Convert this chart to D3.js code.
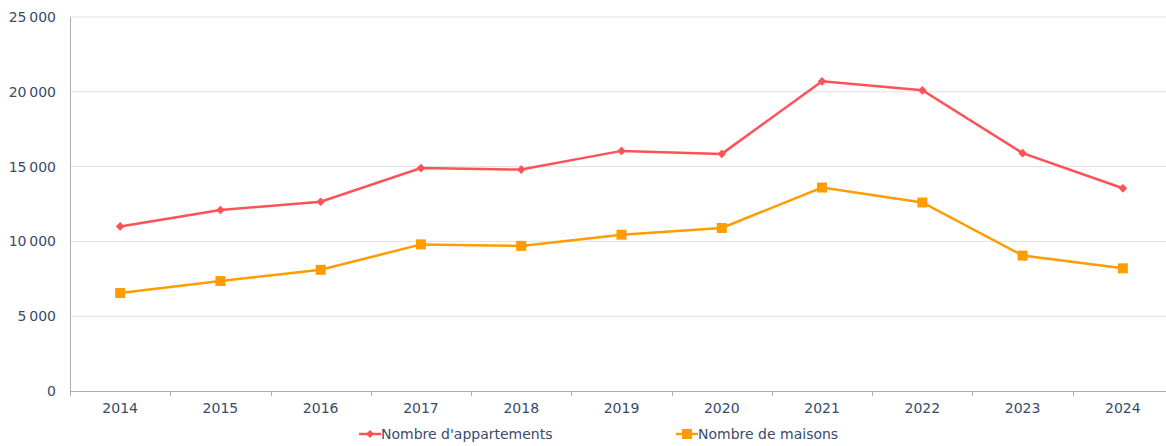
<!DOCTYPE html>
<html>
<head>
<meta charset="utf-8">
<script src="https://cdn.jsdelivr.net/npm/d3@7"></script>
<style>
  html, body { margin: 0; padding: 0; background: #fff; }
  svg { display: block; font-family: "DejaVu Sans", Verdana, sans-serif; }
</style>
</head>
<body>
<svg id="chart" width="1166" height="446"></svg>
<script>
const years = ["2014", "2015", "2016", "2017", "2018", "2019", "2020", "2021", "2022", "2023", "2024"];
const appartements = [11000, 12100, 12650, 14900, 14800, 16050, 15850, 20700, 20100, 15900, 13550];
const maisons = [6550, 7350, 8100, 9800, 9700, 10450, 10900, 13600, 12600, 9050, 8200];
const yTicks = [0, 5000, 10000, 15000, 20000, 25000];
const seriesNames = ["Nombre d'appartements", "Nombre de maisons"];

const textColor = "#3a4a6c";
const red = "#ff5257";
const orange = "#ff9c00";
const fontSize = 14;

const svg = d3.select("#chart");
const plotLeft = 70, plotRight = 1173, plotTop = 17, plotBottom = 391;

const x = d3.scaleBand().domain(years).range([plotLeft, plotRight]);
const y = d3.scaleLinear().domain([0, 25000]).range([plotBottom, plotTop]);

const fmt = v => d3.format(",")(v).replace(/,/g, "\u202F");

// horizontal grid
svg.append("g")
  .selectAll("line")
  .data(yTicks.filter(d => d > 0))
  .join("line")
  .attr("x1", plotLeft).attr("x2", 1166)
  .attr("y1", d => y(d)).attr("y2", d => y(d))
  .attr("stroke", "#e1e1e1").attr("stroke-width", 1);

// y axis labels
svg.append("g")
  .selectAll("text")
  .data(yTicks)
  .join("text")
  .attr("x", 56).attr("y", d => y(d))
  .attr("dy", "0.35em")
  .attr("text-anchor", "end")
  .attr("font-size", fontSize)
  .attr("fill", textColor)
  .text(fmt);

// y axis line
svg.append("line")
  .attr("x1", plotLeft + 0.5).attr("x2", plotLeft + 0.5)
  .attr("y1", plotTop).attr("y2", plotBottom)
  .attr("stroke", "#a9adb8");

// x axis
const xAxis = svg.append("g")
  .attr("transform", `translate(0,${plotBottom + 0.5})`)
  .call(d3.axisBottom(x).tickSize(0).tickPadding(12));
xAxis.select(".domain").attr("stroke", "#a9adb8").attr("d", `M${plotLeft},0H1166`);
xAxis.selectAll("text")
  .attr("font-size", fontSize)
  .attr("fill", textColor)
  .attr("font-family", "DejaVu Sans, Verdana, sans-serif");

// boundary ticks between categories
svg.append("g")
  .selectAll("line")
  .data(years)
  .join("line")
  .attr("x1", d => Math.round(x(d)) + 0.5).attr("x2", d => Math.round(x(d)) + 0.5)
  .attr("y1", plotBottom).attr("y2", plotBottom + 5)
  .attr("stroke", "#a9adb8");

const cx = d => x(d) + x.bandwidth() / 2;
const line = d3.line().x((d, i) => cx(years[i])).y(d => y(d));

// apartments
svg.append("path")
  .datum(appartements)
  .attr("d", line)
  .attr("fill", "none")
  .attr("stroke", red)
  .attr("stroke-width", 2.5);
svg.append("g")
  .selectAll("path")
  .data(appartements)
  .join("path")
  .attr("transform", (d, i) => `translate(${cx(years[i])},${y(d)})`)
  .attr("d", d3.symbol(d3.symbolDiamond2, 48))
  .attr("fill", red);

// houses
svg.append("path")
  .datum(maisons)
  .attr("d", line)
  .attr("fill", "none")
  .attr("stroke", orange)
  .attr("stroke-width", 2.5);
svg.append("g")
  .selectAll("rect")
  .data(maisons)
  .join("rect")
  .attr("x", (d, i) => cx(years[i]) - 5)
  .attr("y", d => y(d) - 5)
  .attr("width", 10).attr("height", 10)
  .attr("fill", orange);

// legend
const legend = [
  { name: seriesNames[0], color: red, shape: "diamond", x: 359 },
  { name: seriesNames[1], color: orange, shape: "square", x: 676 }
];
const lg = svg.append("g");
legend.forEach(l => {
  const g = lg.append("g").attr("transform", `translate(${l.x},434)`);
  g.append("line").attr("x1", 0).attr("x2", 22).attr("y1", 0).attr("y2", 0)
    .attr("stroke", l.color).attr("stroke-width", 2.5);
  if (l.shape === "diamond") {
    g.append("path").attr("transform", "translate(11,0)")
      .attr("d", d3.symbol(d3.symbolDiamond2, 40)).attr("fill", l.color);
  } else {
    g.append("rect").attr("x", 6).attr("y", -5).attr("width", 10).attr("height", 10)
      .attr("fill", l.color);
  }
  g.append("text").attr("x", 22).attr("y", 0).attr("dy", "0.35em")
    .attr("font-size", fontSize).attr("fill", textColor).text(l.name);
});
</script>
</body>
</html>
